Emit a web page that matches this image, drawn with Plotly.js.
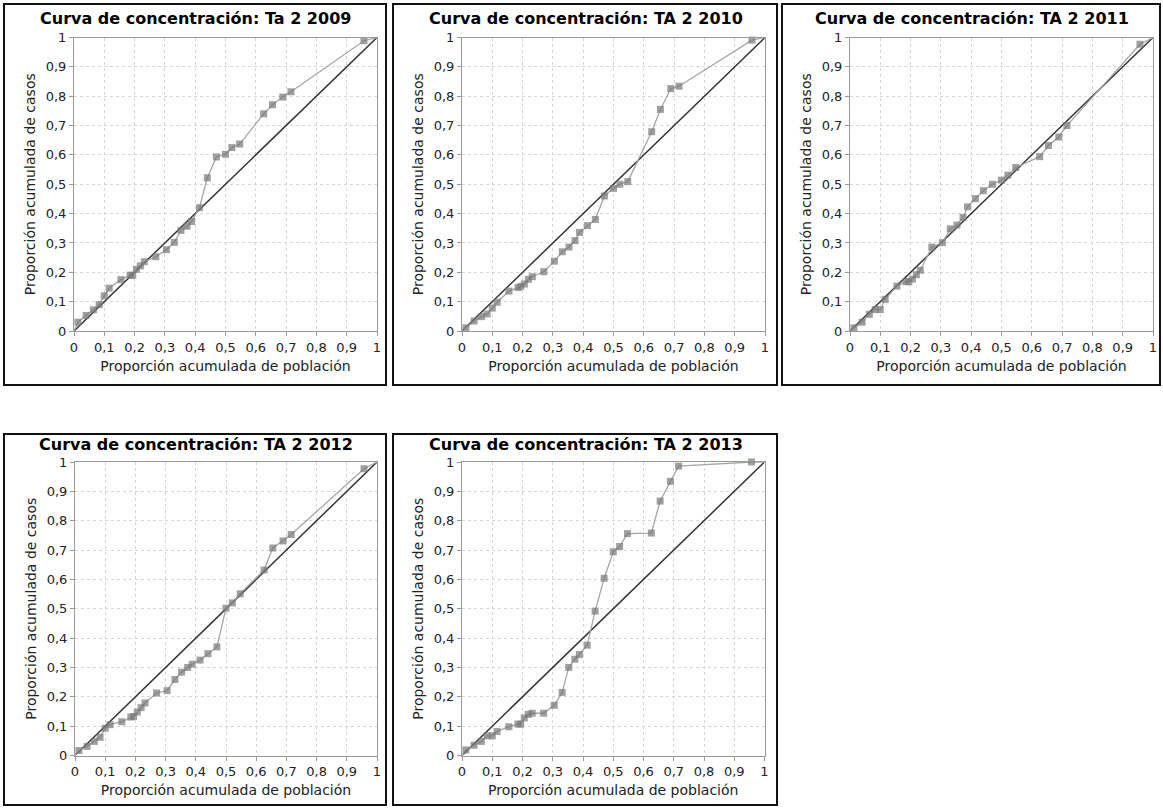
<!DOCTYPE html>
<html>
<head>
<meta charset="utf-8">
<script src="https://cdn.plot.ly/plotly-3.0.1.min.js"></script>
<style>
  html, body { margin: 0; padding: 0; background: #fff; }
  #chart { width: 1163px; height: 808px; }
</style>
</head>
<body>
<div id="chart"></div>
<script>
// Cumulative share of population (common to every year)
const poblacion = [0, 0.013, 0.04, 0.064, 0.083, 0.1, 0.116, 0.155, 0.185, 0.194, 0.206, 0.219, 0.232, 0.27, 0.305, 0.331, 0.353, 0.373, 0.388, 0.414, 0.44, 0.47, 0.5, 0.521, 0.547, 0.626, 0.655, 0.689, 0.716, 0.957, 1];

// Cumulative share of cases, one series per year
const casos2009 = [0, 0.03, 0.053, 0.072, 0.09, 0.12, 0.146, 0.175, 0.19, 0.19, 0.21, 0.222, 0.236, 0.253, 0.277, 0.302, 0.343, 0.357, 0.373, 0.42, 0.522, 0.593, 0.602, 0.625, 0.637, 0.74, 0.771, 0.797, 0.815, 0.989, 1];
const casos2010 = [0, 0.011, 0.034, 0.049, 0.058, 0.078, 0.098, 0.136, 0.148, 0.152, 0.16, 0.176, 0.185, 0.202, 0.238, 0.27, 0.286, 0.308, 0.336, 0.359, 0.38, 0.46, 0.486, 0.5, 0.509, 0.679, 0.755, 0.826, 0.834, 0.991, 1];
const casos2011 = [0, 0.011, 0.03, 0.057, 0.073, 0.073, 0.108, 0.153, 0.168, 0.168, 0.177, 0.192, 0.207, 0.286, 0.301, 0.348, 0.361, 0.387, 0.423, 0.451, 0.478, 0.5, 0.514, 0.531, 0.557, 0.594, 0.632, 0.661, 0.7, 0.977, 1];
const casos2012 = [0, 0.017, 0.031, 0.048, 0.062, 0.093, 0.105, 0.115, 0.131, 0.133, 0.148, 0.163, 0.179, 0.213, 0.221, 0.259, 0.284, 0.3, 0.311, 0.325, 0.347, 0.37, 0.502, 0.52, 0.551, 0.632, 0.707, 0.731, 0.753, 0.977, 1];
const casos2013 = [0, 0.019, 0.035, 0.048, 0.067, 0.067, 0.082, 0.098, 0.107, 0.107, 0.128, 0.14, 0.144, 0.144, 0.171, 0.215, 0.3, 0.328, 0.344, 0.376, 0.492, 0.604, 0.694, 0.712, 0.756, 0.758, 0.867, 0.934, 0.986, 1, 1];

// Equality line
const igualdad = [0, 1];

const titulos = [
  "Curva de concentración: Ta 2 2009",
  "Curva de concentración: TA 2 2010",
  "Curva de concentración: TA 2 2011",
  "Curva de concentración: TA 2 2012",
  "Curva de concentración: TA 2 2013"
];
const series = [casos2009, casos2010, casos2011, casos2012, casos2013];

const tituloX = "Proporción acumulada de población";
const tituloY = "Proporción acumulada de casos";

const FONT = 'DejaVu Sans, Verdana, sans-serif';

// Page geometry (pixels): frame box, plot area and title centre line
const W = 1163, H = 808;
const paneles = [
  { box: [4, 4, 386, 385],     plot: [74, 37.5, 377, 331],      titleY: 18.5 },
  { box: [393, 4, 777, 385],   plot: [462, 37.5, 765, 331],     titleY: 18.5 },
  { box: [782, 4, 1160, 385],  plot: [850, 37.5, 1153, 331],    titleY: 18.5 },
  { box: [4, 434, 386, 805],   plot: [75, 462, 377, 755.5],     titleY: 444 },
  { box: [393, 434, 777, 805], plot: [462, 462, 764.5, 755.5],  titleY: 444 }
];

const px = v => v / W;
const py = v => 1 - v / H;

const traces = [];
const layout = {
  width: W, height: H,
  margin: { l: 0, r: 0, t: 0, b: 0 },
  paper_bgcolor: '#ffffff',
  plot_bgcolor: '#ffffff',
  showlegend: false,
  separators: ', ',
  font: { family: FONT, size: 12, color: '#222' },
  shapes: [],
  annotations: []
};

paneles.forEach((p, i) => {
  const n = i === 0 ? '' : String(i + 1);
  const xa = 'x' + n, ya = 'y' + n;
  const npts = poblacion.length;
  const sizes = poblacion.map((_, k) => (k === 0 || k === npts - 1) ? 0 : 7);

  traces.push({
    x: igualdad, y: igualdad, xaxis: xa, yaxis: ya,
    mode: 'lines', type: 'scatter',
    line: { color: '#333333', width: 1.5 },
    hoverinfo: 'skip', cliponaxis: false
  });
  traces.push({
    x: poblacion, y: series[i], xaxis: xa, yaxis: ya,
    mode: 'lines+markers', type: 'scatter',
    line: { color: '#a6a6a6', width: 1.3 },
    marker: { symbol: 'square', size: sizes, color: '#777777', line: { width: 0 } },
    cliponaxis: false
  });

  const axisCommon = {
    range: [0, 1], dtick: 0.1, tick0: 0,
    showline: true, mirror: true, linecolor: '#9a9a9a', linewidth: 1,
    ticks: 'outside', ticklen: 4, tickcolor: '#9a9a9a', tickwidth: 1,
    showgrid: true, gridcolor: '#d6d6d6', griddash: '3px,3px', gridwidth: 1,
    zeroline: false, fixedrange: true,
    tickfont: { family: FONT, size: 13, color: '#222' }
  };

  layout['xaxis' + n] = Object.assign({}, axisCommon, {
    domain: [px(p.plot[0]), px(p.plot[2])],
    anchor: ya,
    title: { text: tituloX, standoff: 7, font: { family: FONT, size: 14, color: '#222' } }
  });
  layout['yaxis' + n] = Object.assign({}, axisCommon, {
    domain: [py(p.plot[3]), py(p.plot[1])],
    anchor: xa,
    title: { text: tituloY, standoff: 6, font: { family: FONT, size: 14, color: '#222' } }
  });

  // Panel frame
  layout.shapes.push({
    type: 'rect', xref: 'paper', yref: 'paper',
    x0: px(p.box[0]), x1: px(p.box[2]), y0: py(p.box[3]), y1: py(p.box[1]),
    line: { color: '#111', width: 2 }, fillcolor: 'rgba(0,0,0,0)'
  });

  // Panel title
  layout.annotations.push({
    text: '<b>' + titulos[i] + '</b>',
    xref: 'paper', yref: 'paper',
    x: px((p.box[0] + p.box[2]) / 2 + 1), y: py(p.titleY),
    xanchor: 'center', yanchor: 'middle', showarrow: false,
    font: { family: FONT, size: 16, color: '#000' }
  });
});

Plotly.newPlot('chart', traces, layout, { displayModeBar: false, staticPlot: true });
</script>
</body>
</html>
